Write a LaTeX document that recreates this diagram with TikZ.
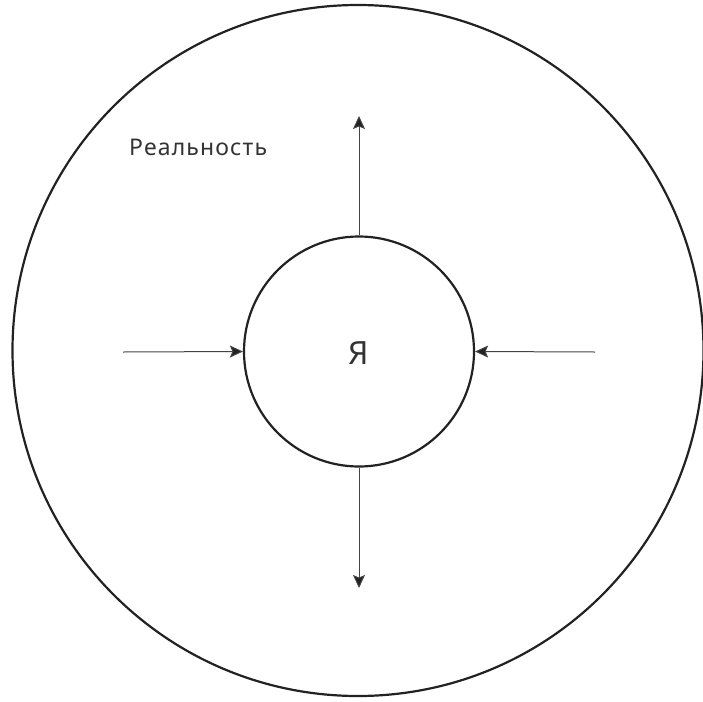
\documentclass[tikz,border=0pt]{standalone}
\usepackage{fontspec}
\setmainfont{Noto Sans}
\newfontfamily\spaced[LetterSpace=5]{Noto Sans}
\usetikzlibrary{arrows.meta}
\definecolor{ink}{HTML}{222222}
\definecolor{txt}{HTML}{333333}
\begin{document}
\begin{tikzpicture}[x=1pt,y=-1pt,
  ring/.style={draw=ink,line width=2.2pt,circle,inner sep=0pt},
  flow/.style={draw=ink!85,line width=1pt,-{Stealth[length=13pt,width=12pt,inset=2.5pt,fill=ink]}},
  lbl/.style={text=txt,font=\spaced\fontsize{23}{26}\selectfont,inner sep=0pt}]
\useasboundingbox (0,0) rectangle (703,701);
\node[ring,minimum size=691pt] (outer) at (358,350.5) {};
\node[ring,minimum size=230pt] (inner) at (359,351.5) {};
\node[text=txt,font=\fontsize{32}{36}\selectfont,inner sep=0pt] (me) at (359,353) {Я};
\node[lbl,anchor=base west] (real) at (129,155) {Реальность};
\coordinate (ltail) at (123,352);
\coordinate (rtail) at (595,352);
\coordinate (uhead) at (359,116);
\coordinate (dhead) at (359,588);
\draw[flow] (ltail) -- (inner.west);
\draw[flow] (rtail) -- (inner.east);
\draw[flow] (inner.north) -- (uhead);
\draw[flow] (inner.south) -- (dhead);
\end{tikzpicture}
\end{document}
